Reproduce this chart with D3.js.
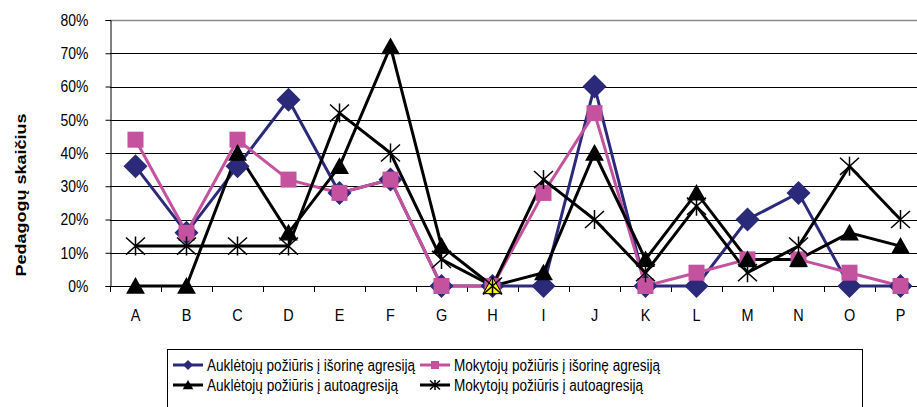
<!DOCTYPE html>
<html><head><meta charset="utf-8">
<script src="https://cdn.jsdelivr.net/npm/d3@7"></script>
<style>body{margin:0;background:#fff}svg{display:block}text{font-family:"Liberation Sans",Arial,sans-serif}</style>
</head><body><svg id="c" width="917" height="407"></svg>
<script>
const categories = ["A","B","C","D","E","F","G","H","I","J","K","L","M","N","O","P"];
const aukletojuIsorine = [36,16,36,56,28,32,0,0,0,60,0,0,20,28,0,0];
const mokytojuIsorine  = [44,16,44,32,28,32,0,0,28,52,0,4,8,8,4,0];
const aukletojuAuto    = [0,0,40,16,36,72,12,0,4,40,8,28,8,8,16,12];
const mokytojuAuto     = [12,12,12,12,52,40,8,0,32,20,4,24,4,12,36,20];
const yTicks = [0,10,20,30,40,50,60,70,80];
const seriesNames = ["Auklėtojų požiūris į išorinę agresiją","Mokytojų požiūris į išorinę agresiją","Auklėtojų požiūris į autoagresiją","Mokytojų požiūris į autoagresiją"];
const yTitle = "Pedagogų skaičius";

const NAVY="#2B2A7A", PINK="#C4529E", BLACK="#000";
const series = [
  {name:seriesNames[0], values:aukletojuIsorine, color:NAVY, marker:"diamond"},
  {name:seriesNames[1], values:mokytojuIsorine, color:PINK, marker:"square"},
  {name:seriesNames[2], values:aukletojuAuto, color:BLACK, marker:"triangle"},
  {name:seriesNames[3], values:mokytojuAuto, color:BLACK, marker:"star"}
];

const svg = d3.select("#c");
const L=110, R=926, T=20, B=286;
const x = d3.scaleBand().domain(categories).range([L,R]).padding(0);
const y = d3.scaleLinear().domain([0,80]).range([B,T]);

function squeeze(sel, f){ sel.each(function(){ const n=this.getComputedTextLength(); d3.select(this).attr("textLength", n*f).attr("lengthAdjust","spacingAndGlyphs"); }); }

// gridlines
svg.append("g").selectAll("line").data(yTicks.filter(d=>d>0)).join("line")
  .attr("x1",L).attr("x2",R).attr("y1",d=>Math.round(y(d))+0.5).attr("y2",d=>Math.round(y(d))+0.5)
  .attr("stroke",d=>d===80?"#8a8a8a":"#000").attr("stroke-width",d=>d===80?1.5:1);

// y axis
const yAxis = svg.append("g").attr("transform",`translate(${L+0.5},0)`)
  .call(d3.axisLeft(y).tickValues(yTicks).tickSize(5).tickPadding(17).tickFormat(d=>d+"%"));
yAxis.select(".domain").attr("stroke","#000");
yAxis.selectAll(".tick line").attr("stroke","#000");
yAxis.selectAll("text").attr("font-size",17).attr("fill","#000").attr("font-family","Liberation Sans, Arial, sans-serif").call(squeeze,0.82);

// x axis: labels at centers, ticks at boundaries
const xAxis = svg.append("g").attr("transform",`translate(0,${B+0.5})`)
  .call(d3.axisBottom(x).tickSize(0).tickPadding(22));
xAxis.select(".domain").remove();
xAxis.selectAll("text").attr("font-size",17).attr("fill","#000").attr("font-family","Liberation Sans, Arial, sans-serif").call(squeeze,0.85);
const bounds = d3.range(categories.length+1).map(i=> i===categories.length ? R : x(categories[i]));
svg.append("line").attr("x1",L).attr("x2",R).attr("y1",B+0.5).attr("y2",B+0.5).attr("stroke","#000");
svg.append("g").selectAll("line").data(bounds).join("line")
  .attr("x1",d=>Math.round(d)+0.5).attr("x2",d=>Math.round(d)+0.5).attr("y1",B).attr("y2",B+6).attr("stroke","#000");

// y title
svg.append("text").attr("transform","translate(26,195) rotate(-90) scale(1,0.85)")
  .attr("text-anchor","middle").attr("font-size",18).attr("font-weight","bold").text(yTitle);

// lines
const line = d3.line().x((d,i)=>x(categories[i])+x.bandwidth()/2).y(d=>y(d));
series.forEach(s=>{
  svg.append("path").datum(s.values).attr("d",line).attr("fill","none")
    .attr("stroke",s.color).attr("stroke-width",3).attr("stroke-linejoin","miter");
});

function drawMarker(g, type, cx, cy, color, sz, fill){
  if(type==="diamond"){
    g.append("path").attr("d",`M${cx},${cy-sz}L${cx+sz},${cy}L${cx},${cy+sz}L${cx-sz},${cy}Z`).attr("fill",color);
  } else if(type==="square"){
    g.append("rect").attr("x",cx-sz).attr("y",cy-sz).attr("width",2*sz).attr("height",2*sz).attr("fill",color);
  } else if(type==="triangle"){
    g.append("path").attr("d",`M${cx},${cy-sz}L${cx+sz*1.05},${cy+sz*0.85}L${cx-sz*1.05},${cy+sz*0.85}Z`)
      .attr("fill",fill||color).attr("stroke",fill?"#000":"none").attr("stroke-width",1);
  } else if(type==="star"){
    g.append("path").attr("d",`M${cx-sz},${cy-sz*0.9}L${cx+sz},${cy+sz*0.9}M${cx-sz},${cy+sz*0.9}L${cx+sz},${cy-sz*0.9}M${cx},${cy-sz}L${cx},${cy+sz}`)
      .attr("stroke",color).attr("stroke-width",1.5).attr("fill","none");
  }
}
const sizes = {diamond:12, square:8, triangle:9, star:9.5};
series.forEach(s=>{
  const g = svg.append("g");
  s.values.forEach((v,i)=>{
    const fill = (s.marker==="triangle" && categories[i]==="H") ? "#FFFF00" : null;
    drawMarker(g, s.marker, x(categories[i])+x.bandwidth()/2, y(v), s.color, sizes[s.marker], fill);
  });
});

// legend
const lg = svg.append("g");
lg.append("rect").attr("x",167.5).attr("y",349.5).attr("width",695).attr("height",80).attr("fill","#fff").attr("stroke","#000");
const legPos = [[173,365],[420,365],[173,385],[420,385]];
const legW = [208,206,191,189];
const lsz = {diamond:5, square:4, triangle:5, star:5};
series.forEach((s,i)=>{
  const [lx,ly]=legPos[i];
  lg.append("line").attr("x1",lx).attr("x2",lx+30).attr("y1",ly).attr("y2",ly).attr("stroke",s.color).attr("stroke-width",3);
  drawMarker(lg, s.marker, lx+15, ly, s.color, lsz[s.marker]);
  lg.append("text").attr("x",lx+34).attr("y",ly+6).attr("font-size",16).attr("fill","#000")
    .attr("textLength",legW[i]).attr("lengthAdjust","spacingAndGlyphs").text(s.name);
});
</script></body></html>
